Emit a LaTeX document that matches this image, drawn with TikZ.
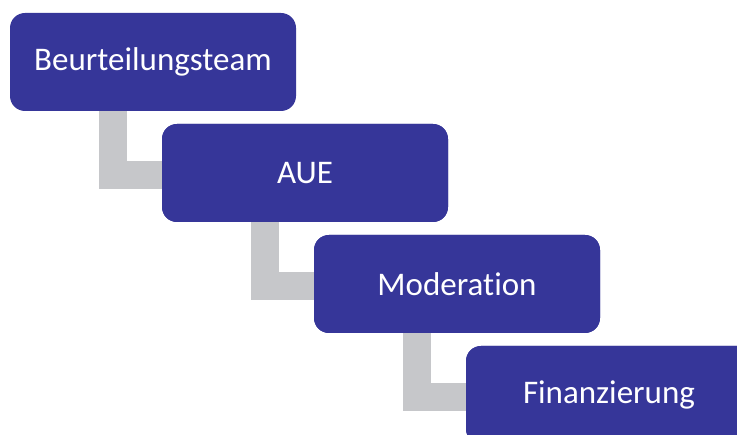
\documentclass[tikz,border=0pt]{standalone}
\usepackage{fontspec}
\setmainfont[Ligatures=NoCommon]{Carlito}
\definecolor{boxblue}{HTML}{363699}
\definecolor{conngrey}{HTML}{C6C7CA}
\begin{document}
\begin{tikzpicture}[x=1pt,y=1pt,
  stepbox/.style={fill=boxblue, rounded corners=15pt, minimum width=286pt, minimum height=98pt,
    inner sep=0pt, text=white, font=\fontsize{33}{38}\selectfont},
  conn/.style={draw=conngrey, line width=28pt, line join=miter, line cap=butt}]
\useasboundingbox (0,0) rectangle (737,435);
\clip (0,0) rectangle (737,435);
\node[stepbox] (b1) at (153,373) {Beurteilungsteam};
\node[stepbox] (b2) at (305,262) {AUE};
\node[stepbox] (b3) at (457,151) {Moderation};
\node[stepbox] (b4) at (609,40) {Finanzierung};
\draw[conn] ([xshift=-40.5pt]b1.south) |- ([yshift=-2pt]b2.west);
\draw[conn] ([xshift=-40.5pt]b2.south) |- ([yshift=-2pt]b3.west);
\draw[conn] ([xshift=-40.5pt]b3.south) |- ([yshift=-2pt]b4.west);
\node[stepbox] at (b2) {AUE};
\node[stepbox] at (b3) {Moderation};
\node[stepbox] at (b4) {Finanzierung};
\end{tikzpicture}
\end{document}
